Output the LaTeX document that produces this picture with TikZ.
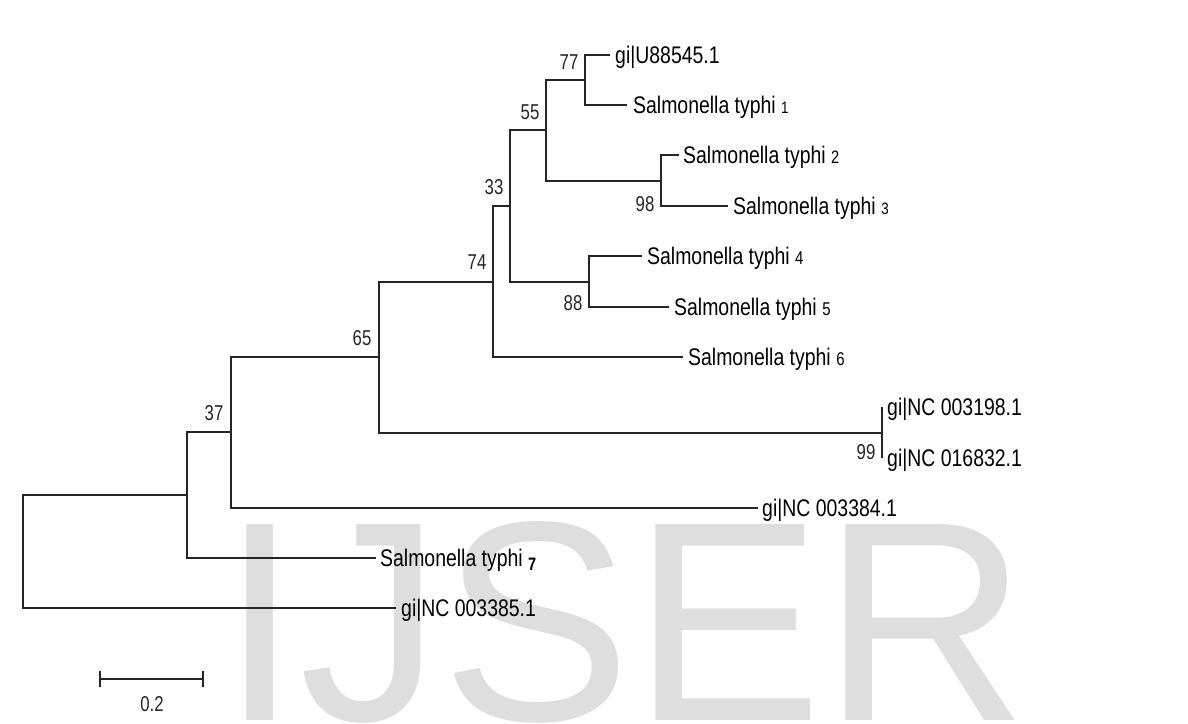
\documentclass[tikz,border=0pt]{standalone}
\usepackage{fontspec}
\setmainfont{Liberation Sans}
\newfontfamily\treefont[FakeStretch=0.81]{Liberation Sans}
\newfontfamily\bootfont[FakeStretch=0.78]{Liberation Sans}
\usetikzlibrary{positioning}
\definecolor{wmgray}{gray}{0.87}
\definecolor{brcol}{gray}{0.15}
\newcommand{\tagnum}[2]{{\fontsize{#1}{#1}\selectfont #2}}

\begin{document}
\begin{tikzpicture}[
    x=1pt, y=-1pt,
    every node/.style={inner sep=0pt},
    branch/.style={draw=brcol, line width=1.5pt},
    leaf/.style={font=\treefont\fontsize{24}{24}\selectfont,
                 text height=17.2pt, text depth=0pt},
    boot/.style={font=\bootfont\fontsize{21.5}{21.5}\selectfont,
                 text height=15.4pt, text depth=0pt, text=brcol},
    wmark/.style={font=\fontsize{285}{285}\selectfont, text=wmgray,
                  anchor=base west}
  ]
  \useasboundingbox (0,0) rectangle (1188,723);
  % watermark behind the tree
  \node[wmark] (wm) at (220,720) {IJSER};

  % inner nodes
  \coordinate (n0) at (23,551);
  \coordinate (nA) at (187,495);
  \coordinate (nB) at (231,432);
  \coordinate (nC) at (379,357);
  \coordinate (nD) at (493,282);
  \coordinate (nE) at (882,433);
  \coordinate (nF) at (510,206);
  \coordinate (nG) at (589,282);
  \coordinate (nH) at (546,130);
  \coordinate (nI) at (585,80);
  \coordinate (nJ) at (661,181);

  % branch tips
  \coordinate (tU) at (610,55);
  \coordinate (t1) at (627,105);
  \coordinate (t2) at (679,155);
  \coordinate (t3) at (728,206);
  \coordinate (t4) at (642,256);
  \coordinate (t5) at (669,307);
  \coordinate (t6) at (683,357);
  \coordinate (t198) at (882,407);
  \coordinate (t832) at (882,458);
  \coordinate (t384) at (758,508);
  \coordinate (t7) at (376,558);
  \coordinate (t385) at (396,608);

  \foreach \p/\c in {n0/nA, n0/t385, nA/nB, nA/t7, nB/nC, nB/t384,
                     nC/nD, nC/nE, nE/t198, nE/t832, nD/nF, nD/t6,
                     nF/nH, nF/nG, nG/t4, nG/t5, nH/nI, nH/nJ,
                     nI/tU, nI/t1, nJ/t2, nJ/t3}
    \draw[branch] (\p) |- (\c);

  % taxa
  \node[leaf, right=5pt of tU] (u88) {gi|U88545.1};
  \node[leaf, right=6pt of t1] (st1) {Salmonella typhi \tagnum{16.5}{1}};
  \node[leaf, right=4pt of t2] (st2) {Salmonella typhi \tagnum{18}{2}};
  \node[leaf, right=5pt of t3] (st3) {Salmonella typhi \tagnum{16.5}{3}};
  \node[leaf, right=5pt of t4] (st4) {Salmonella typhi \tagnum{18.5}{4}};
  \node[leaf, right=5pt of t5] (st5) {Salmonella typhi \tagnum{18.5}{5}};
  \node[leaf, right=5pt of t6] (st6) {Salmonella typhi \tagnum{18.5}{6}};
  \node[leaf, right=5pt of t198] (nc198) {gi|NC 003198.1};
  \node[leaf, right=5pt of t832] (nc832) {gi|NC 016832.1};
  \node[leaf, right=4pt of t384] (nc384) {gi|NC 003384.1};
  \node[leaf, right=4pt of t7] (st7) {Salmonella typhi \raisebox{-4pt}{\tagnum{18}{\bfseries 7}}};
  \node[leaf, right=5pt of t385] (nc385) {gi|NC 003385.1};

  % bootstrap values
  \node[boot] (b77) at (569,62) {77};
  \node[boot] (b55) at (530,112) {55};
  \node[boot] (b33) at (494,187) {33};
  \node[boot] (b74) at (477,262) {74};
  \node[boot] (b88) at (573,303) {88};
  \node[boot] (b98) at (645,204) {98};
  \node[boot] (b65) at (362,338) {65};
  \node[boot] (b37) at (214,413) {37};
  \node[boot] (b99) at (866,452) {99};

  % scale bar
  \coordinate (sbL) at (100,679);
  \coordinate (sbR) at (203,679);
  \draw[branch] (sbL) -- (sbR);
  \draw[branch] ([yshift=8pt]sbL) -- ([yshift=-8pt]sbL);
  \draw[branch] ([yshift=8pt]sbR) -- ([yshift=-8pt]sbR);
  \node[boot] (sbt) at (152,704) {0.2};
\end{tikzpicture}
\end{document}
